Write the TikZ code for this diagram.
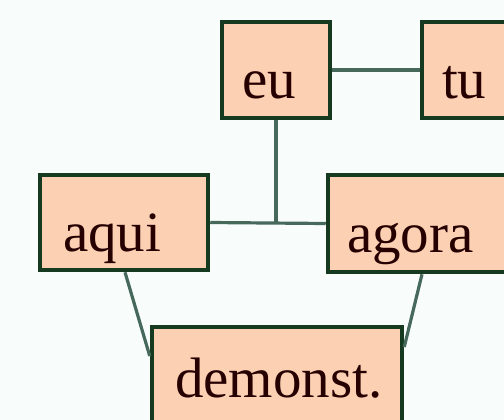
\documentclass[tikz,border=0pt]{standalone}
\usepackage{fontspec}
\setmainfont{Liberation Serif}
\definecolor{bgc}{RGB}{248,253,252}
\definecolor{peach}{RGB}{252,208,178}
\definecolor{boxline}{RGB}{22,58,32}
\definecolor{conn}{RGB}{70,105,92}
\tikzset{
  wbox/.style={draw=boxline, fill=peach, line width=4.5pt, rectangle,
    font=\fontsize{57}{60}\selectfont, text=black!85!red,
    text height=58pt, text depth=0pt, inner ysep=0pt, align=left},
  conline/.style={draw=conn, line width=3.2pt}
}
\begin{document}
\begin{tikzpicture}[x=1pt,y=-1pt]
\fill[bgc] (0,0) rectangle (504,420);
\useasboundingbox (0,0) rectangle (504,420);
\node[wbox, minimum width=108pt, minimum height=96pt, inner xsep=20pt, text width=68pt] (eu) at (276,70) {eu};
\node[wbox, minimum width=110pt, minimum height=96pt, inner xsep=20pt, text width=70pt] (tu) at (477,70) {tu};
\node[wbox, minimum width=168pt, minimum height=95pt, inner xsep=23pt, text width=122pt] (aqui) at (124,222.5) {aqui};
\node[wbox, minimum width=187pt, minimum height=97pt, inner xsep=19pt, text width=149pt] (agora) at (421.5,223.5) {agora};
\node[wbox, minimum width=250pt, minimum height=118pt, inner xsep=23pt, text width=204pt, text height=40pt, text depth=18pt] (dem) at (277,386) {demonst.};
\coordinate (j) at (276,222);
\draw[conline] (eu.east) -- (tu.west);
\draw[conline] (eu.south) -- (j);
\draw[conline] (aqui.east) -- (agora.west);
\draw[conline] ([xshift=1pt]aqui.south) -- ([yshift=30pt]dem.west);
\draw[conline] ([xshift=0.5pt]agora.south) -- ([yshift=39pt]dem.east);
\end{tikzpicture}
\end{document}
